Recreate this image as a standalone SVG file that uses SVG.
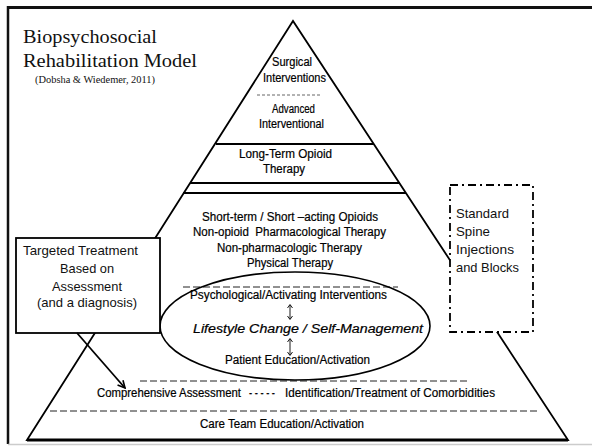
<svg xmlns="http://www.w3.org/2000/svg" width="592" height="447" viewBox="0 0 592 447">
<style>
.t{font-family:"Liberation Sans",Arial,sans-serif;font-size:12px;fill:#000;stroke:#000;stroke-width:0.2}
.c{font-family:"Liberation Sans",Arial,sans-serif;font-size:13px;fill:#111}
.s{font-family:"Liberation Serif","Times New Roman",serif;fill:#111}
.ln{stroke:#000;fill:none}
.dash{stroke:#222;stroke-width:1;stroke-dasharray:7 3;fill:none}
</style>
<defs>
<marker id="ah" viewBox="0 0 10 10" refX="9" refY="5" markerWidth="9" markerHeight="9" markerUnits="userSpaceOnUse" orient="auto">
<path d="M1,1 L9,5 L1,9" fill="none" stroke="#000" stroke-width="1.8"/>
</marker>
</defs>
<rect width="592" height="447" fill="#fff"/>
<g id="frame">
<line x1="7" y1="7.5" x2="592" y2="7.5" stroke="#111" stroke-width="3"/>
<line x1="8" y1="6" x2="8" y2="444" stroke="#111" stroke-width="2.5"/>
<line x1="8" y1="444.5" x2="592" y2="444.5" stroke="#ccc" stroke-width="1.5"/>
</g>
<g id="title">
<text class="s" x="23" y="43" font-size="19.5" textLength="134" lengthAdjust="spacingAndGlyphs">Biopsychosocial</text>
<text class="s" x="23" y="67" font-size="19.5" textLength="174" lengthAdjust="spacingAndGlyphs">Rehabilitation Model</text>
<text class="s" x="35" y="83" font-size="9.5" textLength="120" lengthAdjust="spacingAndGlyphs">(Dobsha &amp; Wiedemer, 2011)</text>
</g>
<g id="pyramid">
<path class="ln" d="M27,440 L293,21 L568,440 Z" stroke-width="1.8"/>
<line x1="27" y1="440" x2="568" y2="440" stroke="#000" stroke-width="2.8"/>
<line x1="216" y1="144" x2="374" y2="144" stroke="#000" stroke-width="2"/>
<line x1="190" y1="183" x2="400" y2="183" stroke="#000" stroke-width="2"/>
<line x1="183" y1="193" x2="406" y2="193" stroke="#000" stroke-width="2"/>
<line x1="257" y1="95" x2="322" y2="95" stroke="#666" stroke-width="1" stroke-dasharray="3 2"/>
<line class="dash" x1="183" y1="287" x2="398" y2="287"/>
<line class="dash" x1="140" y1="381" x2="470" y2="381"/>
<line class="dash" x1="50" y1="411" x2="537" y2="411"/>
</g>
<g id="tier-surgical">
<text class="t" x="272" y="66" textLength="40" lengthAdjust="spacingAndGlyphs">Surgical</text>
<text class="t" x="263" y="82" textLength="63" lengthAdjust="spacingAndGlyphs">Interventions</text>
</g>
<g id="tier-advanced">
<text class="t" x="272" y="113" textLength="43" lengthAdjust="spacingAndGlyphs">Advanced</text>
<text class="t" x="259" y="128" textLength="65" lengthAdjust="spacingAndGlyphs">Interventional</text>
</g>
<g id="tier-opioid">
<text class="t" x="239" y="158" textLength="93" lengthAdjust="spacingAndGlyphs">Long-Term Opioid</text>
<text class="t" x="263" y="173" textLength="42" lengthAdjust="spacingAndGlyphs">Therapy</text>
</g>
<g id="tier-therapies">
<text class="t" x="202" y="221" textLength="176" lengthAdjust="spacingAndGlyphs">Short-term / Short –acting Opioids</text>
<text class="t" x="193" y="236" textLength="193" lengthAdjust="spacingAndGlyphs" xml:space="preserve">Non-opioid  Pharmacological Therapy</text>
<text class="t" x="217" y="252" textLength="145" lengthAdjust="spacingAndGlyphs">Non-pharmacologic Therapy</text>
<text class="t" x="247" y="267" textLength="86" lengthAdjust="spacingAndGlyphs">Physical Therapy</text>
</g>
<g id="lifestyle">
<ellipse cx="295" cy="326" rx="135" ry="54" fill="none" stroke="#000" stroke-width="1.6"/>
<text class="t" x="190" y="299" textLength="197" lengthAdjust="spacingAndGlyphs">Psychological/Activating Interventions</text>
<text class="t" x="193" y="333" font-size="16" font-style="italic" textLength="230" lengthAdjust="spacingAndGlyphs">Lifestyle Change / Self-Management</text>
<text class="t" x="225" y="364" textLength="145" lengthAdjust="spacingAndGlyphs">Patient Education/Activation</text>
</g>
<g id="tier-assessment">
<text class="t" x="97" y="397" textLength="144" lengthAdjust="spacingAndGlyphs">Comprehensive Assessment</text>
<text class="t" x="249" y="397" textLength="26" lengthAdjust="spacingAndGlyphs">- - - - -</text>
<text class="t" x="285" y="397" textLength="210" lengthAdjust="spacingAndGlyphs">Identification/Treatment of Comorbidities</text>
</g>
<g id="tier-careteam">
<text class="t" x="200" y="428" textLength="164" lengthAdjust="spacingAndGlyphs">Care Team Education/Activation</text>
</g>
<g id="targeted-box">
<rect x="16" y="238" width="144" height="95" fill="#fff" stroke="#000" stroke-width="1.8"/>
<text class="c" x="23" y="255" textLength="115" lengthAdjust="spacingAndGlyphs">Targeted Treatment</text>
<text class="c" x="60" y="273" textLength="54" lengthAdjust="spacingAndGlyphs">Based on</text>
<text class="c" x="52" y="291" textLength="70" lengthAdjust="spacingAndGlyphs">Assessment</text>
<text class="c" x="37" y="307" textLength="100" lengthAdjust="spacingAndGlyphs">(and a diagnosis)</text>
</g>
<g id="spine-box">
<rect x="450" y="185" width="83" height="147" fill="#fff" stroke="#000" stroke-width="1.8" stroke-dasharray="8 4 2 4"/>
<text class="c" x="456" y="218" textLength="53" lengthAdjust="spacingAndGlyphs">Standard</text>
<text class="c" x="456" y="236" textLength="34" lengthAdjust="spacingAndGlyphs">Spine</text>
<text class="c" x="456" y="254" textLength="58" lengthAdjust="spacingAndGlyphs">Injections</text>
<text class="c" x="456" y="272" textLength="63" lengthAdjust="spacingAndGlyphs">and Blocks</text>
</g>
<g id="connectors">
<line x1="77" y1="333" x2="125" y2="388" stroke="#000" stroke-width="1.8" marker-end="url(#ah)"/>
<path d="M290,305 L290,319 M287.5,308 L290,304.5 L292.5,308 M287.5,316 L290,319.5 L292.5,316" fill="none" stroke="#000" stroke-width="0.9"/>
<path d="M290,339 L290,355 M287.5,342 L290,338.5 L292.5,342 M287.5,352 L290,355.5 L292.5,352" fill="none" stroke="#000" stroke-width="0.9"/>
</g>
</svg>
